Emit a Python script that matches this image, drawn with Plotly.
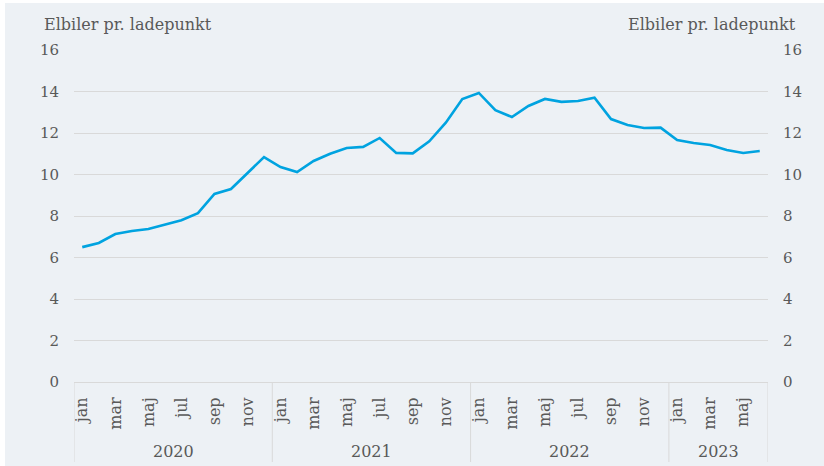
import plotly.graph_objects as go

# Elbiler pr. ladepunkt, monthly jan 2020 - jun 2023
months = ["jan", "feb", "mar", "apr", "maj", "jun",
          "jul", "aug", "sep", "okt", "nov", "dec"]
years = ["2020", "2021", "2022", "2023"]
months_per_year = [12, 12, 12, 6]

values = [
    6.50, 6.70, 7.13, 7.28, 7.37, 7.57, 7.80, 8.14, 9.06, 9.30, 10.07, 10.84,
    10.36, 10.12, 10.65, 11.00, 11.28, 11.33, 11.76, 11.04, 11.02, 11.60, 12.50, 13.64,
    13.93, 13.10, 12.77, 13.30, 13.64, 13.50, 13.54, 13.70, 12.67, 12.39, 12.24, 12.26,
    11.66, 11.52, 11.42, 11.18, 11.04, 11.13,
]
axis_title = "Elbiler pr. ladepunkt"

FONT = "DejaVu Serif"
TXT = "#595959"
GRID = "#d9d9d9"
BG = "#edf1f5"
LINE = "#00a3e0"

# month labels: every second month
labels = []
for n in months_per_year:
    labels += months[:n]
idx = list(range(len(values)))
tickvals = [i for i in idx if i % 2 == 0]
ticktext = [labels[i] for i in tickvals]

fig = go.Figure()
fig.add_trace(go.Scatter(
    x=idx, y=values, mode="lines",
    line=dict(color=LINE, width=2.6),
    hoverinfo="skip", showlegend=False,
))
# invisible copy so the right-hand axis is drawn
fig.add_trace(go.Scatter(
    x=idx, y=values, mode="lines", yaxis="y2",
    line=dict(color="rgba(0,0,0,0)", width=0),
    hoverinfo="skip", showlegend=False,
))

W, H = 824, 466
ml, mr, mt, mb = 74, 56, 50, 84
ph = H - mt - mb
pw = W - ml - mr

shapes = [
    # light panel behind the whole chart
    dict(type="rect", xref="paper", yref="paper", layer="below",
         x0=(5 - ml) / pw, x1=(W - ml) / pw,
         y0=-mb / ph, y1=(H - 3 - mb) / ph,
         fillcolor=BG, line=dict(width=0)),
]
# year group separators
start = -0.5
bounds = [start]
for n in months_per_year:
    start += n
    bounds.append(start)
for b in bounds:
    shapes.append(dict(type="line", xref="x", yref="paper",
                       x0=b, x1=b, y0=0, y1=-80 / ph,
                       line=dict(color=GRID, width=1)))

annotations = [
    dict(text=axis_title, xref="paper", yref="paper",
         x=(42 - ml) / pw, y=1 + 25 / ph, xanchor="left", yanchor="middle",
         showarrow=False, font=dict(family=FONT, size=16, color=TXT)),
    dict(text=axis_title, xref="paper", yref="paper",
         x=(798 - ml) / pw, y=1 + 25 / ph, xanchor="right", yanchor="middle",
         showarrow=False, font=dict(family=FONT, size=16, color=TXT)),
]
for y, b0, b1 in zip(years, bounds[:-1], bounds[1:]):
    annotations.append(dict(
        text=y, xref="x", yref="paper", x=(b0 + b1) / 2, y=-69 / ph,
        xanchor="center", yanchor="middle", showarrow=False,
        font=dict(family=FONT, size=16, color=TXT)))

yaxis_common = dict(
    range=[0, 16], dtick=2, tick0=0, showgrid=True, gridcolor=GRID,
    gridwidth=1, zeroline=False, showline=False, ticks="",
    ticklabelstandoff=14, automargin=False,
    tickfont=dict(family=FONT, size=15, color=TXT),
)

fig.update_layout(
    width=W, height=H,
    margin=dict(l=ml, r=mr, t=mt, b=mb),
    paper_bgcolor="white", plot_bgcolor=BG,
    xaxis=dict(
        range=[-0.5, len(values) - 0.5], tickvals=tickvals, ticktext=ticktext,
        tickangle=-90, showgrid=False, zeroline=False,
        showline=True, linecolor=GRID, linewidth=1, ticks="",
        ticklabelstandoff=8, automargin=False,
        tickfont=dict(family=FONT, size=16, color=TXT),
    ),
    yaxis=dict(side="left", **yaxis_common),
    yaxis2=dict(side="right", overlaying="y", **yaxis_common),
    shapes=shapes, annotations=annotations,
)

# drop the page's default body margin so the figure fills the window
fig.write_html(
    "out.html",
    config={"displayModeBar": False},
    post_script="document.body.style.margin='0';",
)
